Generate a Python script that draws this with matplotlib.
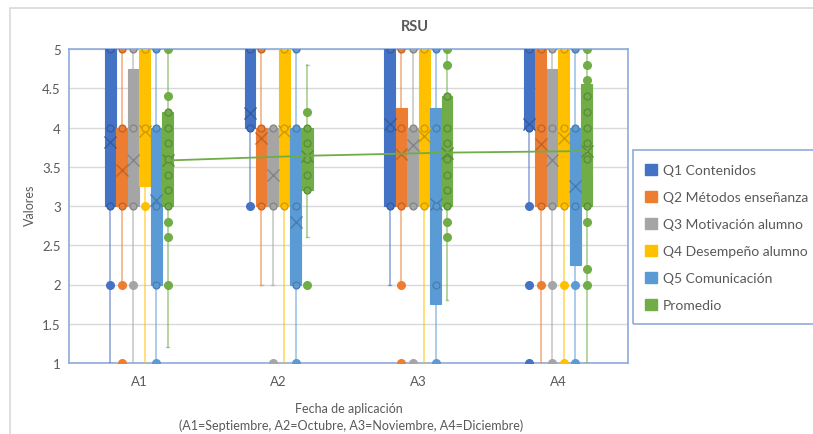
import matplotlib
matplotlib.use("Agg")
import matplotlib.pyplot as plt
from matplotlib.patches import Rectangle, Patch
import numpy as np

plt.rcParams['font.family'] = ['Lato', 'DejaVu Sans']

categories = ["A1", "A2", "A3", "A4"]
series = ["Q1 Contenidos", "Q2 Métodos enseñanza", "Q3 Motivación alumno",
          "Q4 Desempeño alumno", "Q5 Comunicación", "Promedio"]
colors = ["#4472C4", "#ED7D31", "#A5A5A5", "#FFC000", "#5B9BD5", "#70AD47"]

# box limits (q1, q3), whiskers, medians, means per series and category
q1_vals = [[3, 4, 3, 4], [3, 3, 3, 3], [3, 3, 3, 3], [3.25, 3, 3, 3],
           [2, 2, 1.75, 2.25], [3, 3.2, 3, 3]]
q3_vals = [[5, 5, 5, 5], [4, 4, 4.25, 5], [4.75, 4, 4, 4.75], [5, 5, 5, 5],
           [4, 4, 4.25, 4], [4.2, 4, 4.4, 4.55]]
med_vals = [[4, 4.5, 4, 4.5], [3.5, 4, 4, 4], [4, 3, 4, 4], [4, 4, 4, 4],
            [3, 3, 3, 3], [3.6, 3.6, 3.6, 3.9]]
whislo = [[1, 3, 2, 3], [2, 2, 2, 1], [1, 2, 3, 1], [1, 1, 1, 1],
          [1, 1, 1, 1], [1.2, 2.6, 1.8, 1]]
whishi = [[5, 5, 5, 5], [5, 5, 5, 5], [5, 4, 5, 5], [5, 5, 5, 5],
          [5, 5, 5, 5], [5, 4.8, 5, 5]]
means = [[3.82, 4.19, 4.04, 4.04], [3.46, 3.86, 3.66, 3.79], [3.59, 3.39, 3.78, 3.59],
         [3.95, 3.95, 3.89, 3.87], [3.08, 2.80, 3.02, 3.26], [3.58, 3.64, 3.68, 3.70]]

# inner points (hollow) and outliers (filled)
inner_pts = [
    [[5, 4, 3], [5, 4], [5, 4, 3], [5, 4]],
    [[5, 4, 3], [5, 4, 3], [5, 4, 3], [5, 4, 3]],
    [[5, 4, 3], [4, 3], [5, 4, 3], [5, 4, 3]],
    [[5, 4], [5, 4, 3], [5, 4, 3], [5, 4, 3]],
    [[5, 4, 3, 2], [5, 4, 3, 2], [5, 4, 3, 2], [5, 4, 3]],
    [[4.2, 4, 3.8, 3.6, 3.4, 3.2, 3], [4, 3.8, 3.6, 3.4, 3.2],
     [4.4, 4, 3.8, 3.6, 3.4, 3.2, 3], [4.4, 4.2, 4, 3.8, 3.6, 3]],
]
outer_pts = [
    [[2], [3], [], [3, 2, 1]],
    [[2, 1], [], [2, 1], [2]],
    [[2], [1], [1], [2, 1]],
    [[3], [], [], [2, 1]],
    [[1], [1], [1], [2, 1]],
    [[5, 4.4, 2.8, 2.6, 2], [4.2, 2], [5, 4.8, 2.8, 2.6], [5, 4.8, 4.6, 2.8, 2.2, 2]],
]


def shade(c, f):
    rgb = np.array(matplotlib.colors.to_rgb(c))
    return tuple(rgb * f)


fig = plt.figure(figsize=(8.13, 4.35), dpi=100)
W, H = 813, 435

# outer chart frame
fig.patches.append(Rectangle((10 / W, -0.1), 1.2, 1 - 9 / H + 0.1, transform=fig.transFigure,
                             fill=False, edgecolor="#D9D9D9", lw=1.2))

ax = fig.add_axes([69 / W, 1 - 364 / H, (628 - 69) / W, (364 - 50) / H])

step = 0.082
bw = 0.078
x_cat = np.arange(len(categories))

for j, name in enumerate(series):
    col = colors[j]
    dark = shade(col, 0.8)
    pos = x_cat + (j - 2.5) * step
    stats = []
    for i in range(len(categories)):
        stats.append(dict(med=med_vals[j][i], q1=q1_vals[j][i], q3=q3_vals[j][i],
                          whislo=whislo[j][i], whishi=whishi[j][i],
                          mean=means[j][i], fliers=[]))
    ax.bxp(stats, positions=pos, widths=bw, patch_artist=True, showmeans=True,
           capwidths=0.02,
           boxprops=dict(facecolor=col, edgecolor=col, lw=0.8),
           medianprops=dict(color=col, lw=0.8),
           whiskerprops=dict(color=col, lw=1.3, alpha=0.55),
           capprops=dict(color=col, lw=1.0, alpha=0.55),
           meanprops=dict(marker="x", markersize=8, markeredgecolor=dark,
                          markeredgewidth=1.0),
           zorder=3)
    for i in range(len(categories)):
        yi = inner_pts[j][i]
        ax.plot([pos[i]] * len(yi), yi, ls="none", marker="o", ms=5,
                mfc=col, mec=dark, mew=0.9, zorder=4)
        yo = outer_pts[j][i]
        ax.plot([pos[i]] * len(yo), yo, ls="none", marker="o", ms=5.5,
                mfc=col, mec=col, zorder=4)
    if name == "Promedio":
        ax.plot(pos, means[j], color=col, lw=1.3, zorder=5)

ax.set_xlim(-0.5, 3.5)
ax.set_ylim(1, 5)
ax.set_yticks(np.arange(1, 5.01, 0.5))
ax.set_yticklabels(["1", "1.5", "2", "2.5", "3", "3.5", "4", "4.5", "5"])
ax.set_xticks(x_cat)
ax.set_xticklabels(categories)
ax.tick_params(length=0, labelcolor="#595959", labelsize=9.5)
ax.tick_params(axis="x", pad=9)
ax.tick_params(axis="y", pad=6)
ax.yaxis.grid(True, color="#D9D9D9", lw=1)
ax.set_axisbelow(True)
for s in ax.spines.values():
    s.set_color("#8FAADC")
    s.set_linewidth(1.2)

fig.text(415 / W, 1 - 27 / H, "RSU", ha="center", va="center", fontsize=10.5,
         fontweight="bold", color="#595959")
fig.text(30 / W, 1 - 205 / H, "Valores", rotation=90, ha="center", va="center",
         fontsize=9, color="#595959")
fig.text(349 / W, 1 - 409 / H, "Fecha de aplicación", ha="center", va="center",
         fontsize=9, color="#595959")
fig.text(351 / W, 1 - 426 / H, "(A1=Septiembre, A2=Octubre, A3=Noviembre, A4=Diciembre)",
         ha="center", va="center", fontsize=9, color="#595959")

# legend
fig.patches.append(Rectangle((633 / W, 1 - 325 / H), 0.5, (325 - 151) / H,
                             transform=fig.transFigure, fill=False,
                             edgecolor="#8FAADC", lw=1.2))
handles = [Patch(facecolor=c, edgecolor=c) for c in colors]
fig.legend(handles, series, loc="upper left", bbox_to_anchor=(645 / W, 1 - 165 / H),
           frameon=False, fontsize=10, labelcolor="#595959", handlelength=0.85,
           handleheight=0.85, handletextpad=0.45, labelspacing=1.05, borderaxespad=0,
           borderpad=0)

fig.savefig("out.png", dpi=100)
